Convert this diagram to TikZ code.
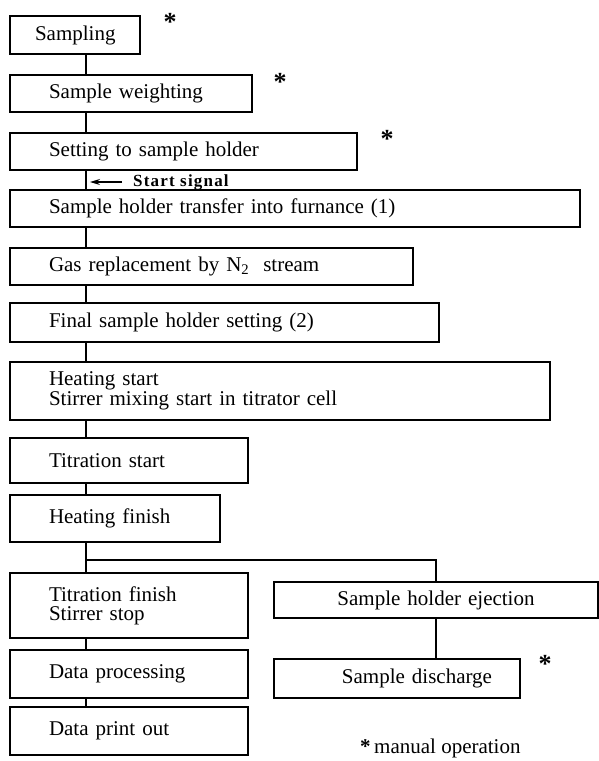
\documentclass[tikz,border=0pt]{standalone}
\usepackage{fontspec}
\setmainfont{Liberation Serif}
\newfontfamily\signalfont[LetterSpace=7]{Liberation Serif}
\usepackage{tikz}
\usetikzlibrary{arrows.meta, positioning}

\begin{document}
\begin{tikzpicture}[
  x=1pt, y=-1pt,
  stepbox/.style={draw, line width=1.6pt, anchor=north west, align=left,
                  inner xsep=39pt, inner ysep=0pt, outer sep=0pt,
                  font=\fontsize{21}{19}\selectfont},
  star/.style={anchor=base, inner sep=0pt, font=\fontsize{26}{26}\selectfont\bfseries},
  link/.style={line width=1.4pt},
  arr/.style={-{Stealth[length=10pt, width=6pt]}, line width=1.2pt}
]
  \useasboundingbox (0,0) rectangle (599,761);
  \coordinate (trunk) at (86,0);

  \node[stepbox, inner xsep=25pt, text width=80pt, minimum height=38pt] (sampling) at (10,16) {Sampling};
  \node[stepbox, text width=164pt, minimum height=37pt, below right=21pt and 0pt of sampling.south west] (weigh) {Sample weighting};
  \node[stepbox, text width=269pt, minimum height=37pt, below right=21pt and 0pt of weigh.south west] (setting) {Setting to sample holder};
  \node[stepbox, text width=492pt, minimum height=37pt, below right=20pt and 0pt of setting.south west] (furnace) {Sample holder transfer into furnance (1)};
  \node[stepbox, text width=325pt, minimum height=37pt, below right=21pt and 0pt of furnace.south west] (gas) {Gas replacement by N\textsubscript{2}\ \ stream};
  \node[stepbox, text width=351pt, minimum height=39pt, below right=18pt and 0pt of gas.south west] (final) {Final sample holder setting (2)};
  \node[stepbox, text width=462pt, minimum height=58pt, below right=20pt and 0pt of final.south west] (heatstart) {Heating start\\Stirrer mixing start in titrator cell};
  \node[stepbox, text width=160pt, minimum height=45pt, below right=18pt and 0pt of heatstart.south west] (titstart) {Titration start};
  \node[stepbox, text width=132pt, minimum height=47pt, below right=12pt and 0pt of titstart.south west] (heatfin) {Heating finish};
  \node[stepbox, text width=160pt, minimum height=65pt, below right=31pt and 0pt of heatfin.south west] (titfin) {Titration finish\\Stirrer stop};
  \node[stepbox, text width=160pt, minimum height=48pt, below right=12pt and 0pt of titfin.south west] (dataproc) {Data processing};
  \node[stepbox, text width=160pt, minimum height=48pt, below right=9pt and 0pt of dataproc.south west] (printout) {Data print out};

  \node[stepbox, align=center, inner xsep=20pt, text width=284pt, minimum height=36pt] (eject) at (274,582) {Sample holder ejection};
  \node[stepbox, align=right, inner xsep=28pt, text width=190pt, minimum height=39pt, below right=41pt and 0pt of eject.south west] (discharge) {Sample discharge};

  \node[star] (star1) at (170,30) {*};
  \node[star] (star2) at (280,90) {*};
  \node[star] (star3) at (387,147) {*};
  \node[star] (star4) at (545,672) {*};

  \node[anchor=west, inner sep=0pt, font=\signalfont\bfseries\fontsize{17}{17}\selectfont] (signal) at (133,182) {Start signal};
  \coordinate (sigtip) at (90,182);
  \draw[arr] ([xshift=-11pt]signal.west) -- (sigtip);

  \foreach \a/\b in {sampling/weigh, weigh/setting, setting/furnace, furnace/gas, gas/final,
                     final/heatstart, heatstart/titstart, titstart/heatfin, heatfin/titfin,
                     titfin/dataproc, dataproc/printout}
    \draw[link] (\a.south -| trunk) -- (\b.north -| trunk);

  \coordinate (split) at (86,560);
  \draw[link] (split) -| (eject.north);
  \draw[link] (eject.south) -- (eject.south |- discharge.north);

  \node[anchor=base west, inner sep=0pt, font=\fontsize{21}{21}\selectfont] (note) at (360,753) {{\bfseries *}\,manual operation};
\end{tikzpicture}
\end{document}
